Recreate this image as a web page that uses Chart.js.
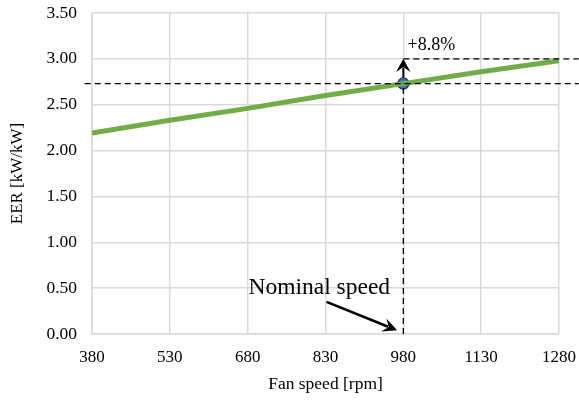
<!DOCTYPE html>
<html>
<head>
<meta charset="utf-8">
<script src="https://cdn.jsdelivr.net/npm/chart.js@4"></script>
<style>
  html, body { margin: 0; padding: 0; background: #fff; }
  #wrap { width: 579px; height: 402px; }
</style>
</head>
<body>
<div id="wrap"><canvas id="eerChart" width="579" height="402"></canvas></div>
<script>
// data
const fanSpeed = [380, 530, 680, 830, 980, 1130, 1280];
const eer = [2.19, 2.33, 2.46, 2.60, 2.73, 2.86, 2.98];
const nominalSpeed = 980;
const nominalEer = 2.73;
const boostedEer = 3.00;
const xTicks = [380, 530, 680, 830, 980, 1130, 1280];
const yTicks = [0, 0.5, 1, 1.5, 2, 2.5, 3, 3.5];

const dash = {
    borderColor: '#000',
    borderWidth: 1.3,
    borderDash: [6, 4],
    pointRadius: 0,
    showLine: true,
    fill: false,
    clip: false
};

// arrows and text notes
const notes = {
    id: 'notes',
    afterDatasetsDraw(chart) {
        const c = chart.ctx;
        const x = chart.scales.x, y = chart.scales.y;
        const arrow = (x1, y1, x2, y2, head, ang) => {
            const a = Math.atan2(y2 - y1, x2 - x1);
            c.beginPath();
            c.moveTo(x1, y1);
            c.lineTo(x2 - Math.cos(a) * head * 0.6, y2 - Math.sin(a) * head * 0.6);
            c.stroke();
            c.beginPath();
            c.moveTo(x2, y2);
            c.lineTo(x2 - head * Math.cos(a - ang), y2 - head * Math.sin(a - ang));
            c.lineTo(x2 - head * 0.55 * Math.cos(a), y2 - head * 0.55 * Math.sin(a));
            c.lineTo(x2 - head * Math.cos(a + ang), y2 - head * Math.sin(a + ang));
            c.closePath();
            c.fill();
        };
        c.save();
        c.strokeStyle = '#000';
        c.fillStyle = '#000';
        c.lineWidth = 2;
        // +8.8% arrow
        arrow(x.getPixelForValue(nominalSpeed), y.getPixelForValue(nominalEer) - 6,
              x.getPixelForValue(nominalSpeed), y.getPixelForValue(boostedEer), 15, 0.5);
        // nominal speed arrow
        c.lineWidth = 2.5;
        arrow(x.getPixelForValue(832), y.getPixelForValue(0.35),
              x.getPixelForValue(968), y.getPixelForValue(0.04), 16, 0.45);
        c.font = '18px "Liberation Serif"';
        c.textAlign = 'left';
        c.textBaseline = 'middle';
        c.fillText('+8.8%', x.getPixelForValue(988), y.getPixelForValue(3.15));
        c.font = '23.5px "Liberation Serif"';
        c.textAlign = 'center';
        c.fillText('Nominal speed', x.getPixelForValue(818), y.getPixelForValue(0.5));
        c.restore();
    }
};

new Chart(document.getElementById('eerChart'), {
    type: 'scatter',
    data: {
        datasets: [
            Object.assign({}, dash, {
                data: [{x: 366, y: nominalEer}, {x: 1318, y: nominalEer}]
            }),
            Object.assign({}, dash, {
                data: [{x: nominalSpeed, y: boostedEer}, {x: 1318, y: boostedEer}]
            }),
            Object.assign({}, dash, {
                data: [{x: nominalSpeed, y: 0}, {x: nominalSpeed, y: nominalEer}]
            }),
            {
                data: fanSpeed.map((v, i) => ({x: v, y: eer[i]})),
                showLine: true,
                borderColor: '#70ad47',
                borderWidth: 5,
                pointRadius: 0,
                fill: false
            },
            {
                data: [{x: nominalSpeed, y: nominalEer}],
                pointRadius: 5.5,
                pointBackgroundColor: '#4472c4',
                pointBorderColor: '#203864',
                pointBorderWidth: 1.5,
                clip: false
            }
        ]
    },
    options: {
        responsive: false,
        animation: false,
        layout: { padding: { top: 13, right: 20, left: 4, bottom: 0 } },
        plugins: {
            legend: { display: false },
            tooltip: { enabled: false }
        },
        scales: {
            x: {
                type: 'linear',
                min: 380,
                max: 1280,
                afterBuildTicks: s => { s.ticks = xTicks.map(v => ({value: v})); },
                afterFit: s => { s.height = 68; s.paddingRight = 0; s.paddingLeft = 0; },
                grid: { color: '#d9d9d9', lineWidth: 1.5, drawTicks: false },
                border: { color: '#d9d9d9', width: 1.5 },
                ticks: {
                    color: '#000',
                    padding: 13,
                    font: { family: 'Liberation Serif', size: 17 },
                    callback: v => String(v)
                },
                title: {
                    display: true,
                    text: 'Fan speed [rpm]',
                    color: '#000',
                    font: { family: 'Liberation Serif', size: 17.5 },
                    padding: { top: 6, bottom: 7 }
                }
            },
            y: {
                min: 0,
                max: 3.5,
                afterBuildTicks: s => { s.ticks = yTicks.map(v => ({value: v})); },
                afterFit: s => { s.width = 88; s.paddingTop = 0; s.paddingBottom = 0; },
                grid: { color: '#d9d9d9', lineWidth: 1.5, drawTicks: false },
                border: { color: '#d9d9d9', width: 1.5 },
                ticks: {
                    color: '#000',
                    padding: 15,
                    font: { family: 'Liberation Serif', size: 17.5 },
                    callback: v => v.toFixed(2)
                },
                title: {
                    display: true,
                    text: 'EER [kW/kW]',
                    color: '#000',
                    font: { family: 'Liberation Serif', size: 17 },
                    padding: { top: 3, bottom: 4 }
                }
            }
        }
    },
    plugins: [notes]
});
</script>
</body>
</html>
